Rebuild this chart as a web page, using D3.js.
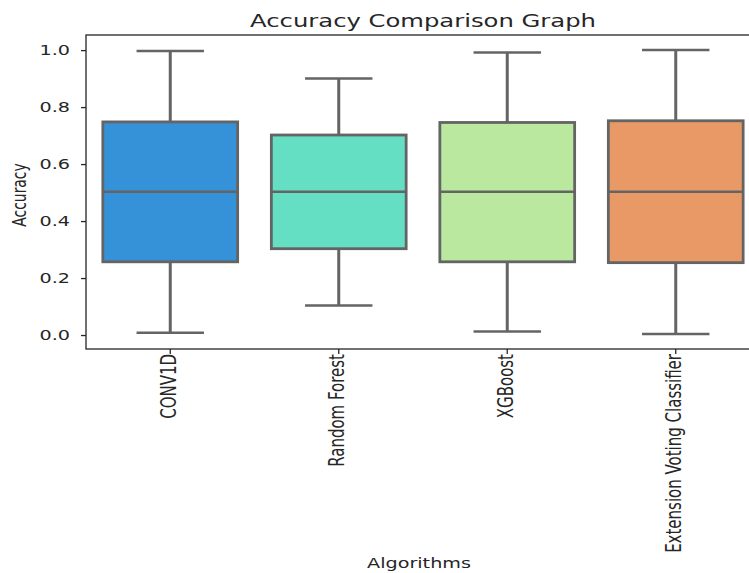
<!DOCTYPE html>
<html><head><meta charset="utf-8">
<script src="https://cdn.jsdelivr.net/npm/d3@7"></script>
<style>body{margin:0;background:#fff}svg{display:block}text{font-family:"DejaVu Sans",sans-serif;fill:#262626}</style>
</head><body><div id="chart"></div>
<script>
const categories = ["CONV1D", "Random Forest", "XGBoost", "Extension Voting Classifier"];
const whiskerLow = [0.008, 0.104, 0.012, 0.004];
const q1 = [0.257, 0.303, 0.257, 0.254];
const median = [0.503, 0.503, 0.503, 0.503];
const q3 = [0.748, 0.702, 0.746, 0.752];
const whiskerHigh = [0.997, 0.900, 0.992, 1.000];
const colors = ["#3591d8", "#64dfc3", "#b9e89e", "#e99966"];
const yTicks = [0.0, 0.2, 0.4, 0.6, 0.8, 1.0];

const W = 749, H = 573, SX = 1.38;
const L = 86, R = 760, T = 35, B = 349;
const svg = d3.select("#chart").append("svg").attr("width", W).attr("height", H);

const x = d3.scaleBand().domain(categories).range([L, R]).paddingInner(0.2).paddingOuter(0.1);
const y = d3.scaleLinear().domain([-0.049, 1.053]).range([B, T]);

const data = categories.map((c, i) => ({c, lo: whiskerLow[i], q1: q1[i], med: median[i], q3: q3[i], hi: whiskerHigh[i], col: colors[i]}));
const lineCol = "#646464";

const g = svg.append("g");
data.forEach(d => {
  const cx = x(d.c) + x.bandwidth() / 2, bw = x.bandwidth(), cap = bw / 2;
  g.append("line").attr("x1", cx).attr("x2", cx).attr("y1", y(d.q3)).attr("y2", y(d.hi)).attr("stroke", lineCol).attr("stroke-width", 3);
  g.append("line").attr("x1", cx).attr("x2", cx).attr("y1", y(d.q1)).attr("y2", y(d.lo)).attr("stroke", lineCol).attr("stroke-width", 3);
  g.append("line").attr("x1", cx - cap / 2).attr("x2", cx + cap / 2).attr("y1", y(d.hi)).attr("y2", y(d.hi)).attr("stroke", lineCol).attr("stroke-width", 2.5);
  g.append("line").attr("x1", cx - cap / 2).attr("x2", cx + cap / 2).attr("y1", y(d.lo)).attr("y2", y(d.lo)).attr("stroke", lineCol).attr("stroke-width", 2.5);
  g.append("rect").attr("x", x(d.c)).attr("width", bw).attr("y", y(d.q3)).attr("height", y(d.q1) - y(d.q3))
    .attr("fill", d.col).attr("stroke", lineCol).attr("stroke-width", 2.8);
  g.append("line").attr("x1", x(d.c)).attr("x2", x(d.c) + bw).attr("y1", y(d.med)).attr("y2", y(d.med)).attr("stroke", lineCol).attr("stroke-width", 2.5);
});

svg.append("rect").attr("x", L).attr("y", T).attr("width", R - L).attr("height", B - T)
  .attr("fill", "none").attr("stroke", "#262626").attr("stroke-width", 1.3);

const ya = svg.append("g").attr("transform", `translate(${L},0)`)
  .call(d3.axisLeft(y).tickValues(yTicks).tickFormat(d3.format(".1f")).tickSize(5).tickPadding(0));
ya.select(".domain").remove();
ya.selectAll(".tick line").attr("stroke", "#262626").attr("stroke-width", 1.3);
ya.selectAll(".tick text").attr("x", -16 / SX).attr("transform", `scale(${SX},1)`)
  .attr("font-size", 13.9).attr("fill", "#262626").style("font-family", "DejaVu Sans");

const xa = svg.append("g").attr("transform", `translate(0,${B})`)
  .call(d3.axisBottom(x).tickSize(5));
xa.select(".domain").remove();
xa.selectAll(".tick line").attr("stroke", "#262626").attr("stroke-width", 1.3);
xa.selectAll(".tick text").attr("x", null).attr("y", null).attr("dy", null)
  .attr("text-anchor", "end").attr("dominant-baseline", "middle")
  .attr("transform", `translate(0,5) scale(${SX},1) rotate(-90)`)
  .attr("font-size", 15).attr("fill", "#262626").style("font-family", "DejaVu Sans");

svg.append("text").attr("transform", `translate(${(L + R) / 2},27) scale(${SX},1)`)
  .attr("text-anchor", "middle").attr("font-size", 17.6).text("Accuracy Comparison Graph");
svg.append("text").attr("transform", `translate(${(L + R) / 2 - 4},568) scale(${SX},1)`)
  .attr("text-anchor", "middle").attr("font-size", 13.9).text("Algorithms");
svg.append("text").attr("transform", `translate(26,195) scale(${SX},1) rotate(-90)`)
  .attr("text-anchor", "middle").attr("font-size", 13.9).text("Accuracy");
</script></body></html>
